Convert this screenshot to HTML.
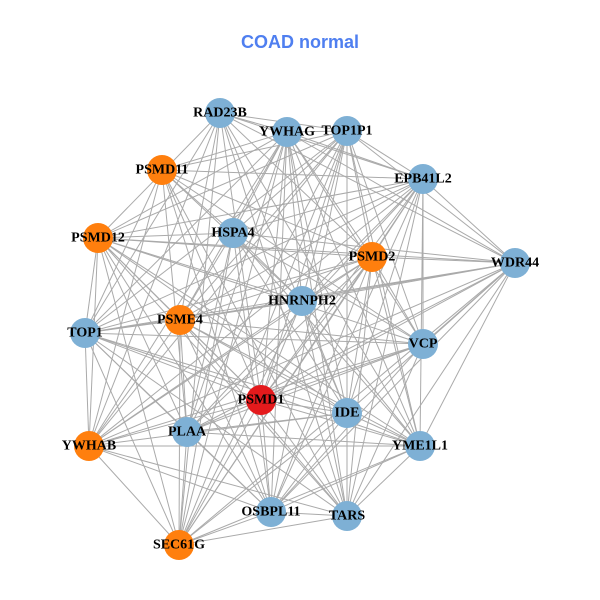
<!DOCTYPE html>
<html><head><meta charset="utf-8"><style>
html,body{margin:0;padding:0;background:#fff;width:600px;height:600px;overflow:hidden}
svg{display:block}
.l{font-family:"Liberation Serif",serif;font-weight:bold;font-size:14px;fill:#000;text-anchor:middle;dominant-baseline:central}
</style></head><body>
<svg id="s" width="600" height="600" xmlns="http://www.w3.org/2000/svg">
<text x="300" y="48" text-anchor="middle" font-family="Liberation Sans,sans-serif" font-weight="bold" font-size="18" fill="#4f7ff0">COAD normal</text>
<g id="e" stroke="#aaaaaa" stroke-width="1"></g>
<g id="n">
<circle cx="220" cy="113" r="15" fill="#7eb0d5"/>
<circle cx="287" cy="132" r="15" fill="#7eb0d5"/>
<circle cx="347" cy="131" r="15" fill="#7eb0d5"/>
<circle cx="162" cy="170" r="15" fill="#ff7f0e"/>
<circle cx="423" cy="179" r="15" fill="#7eb0d5"/>
<circle cx="98" cy="238" r="15" fill="#ff7f0e"/>
<circle cx="233" cy="233" r="15" fill="#7eb0d5"/>
<circle cx="372" cy="257" r="15" fill="#ff7f0e"/>
<circle cx="515" cy="263" r="15" fill="#7eb0d5"/>
<circle cx="302" cy="301" r="15" fill="#7eb0d5"/>
<circle cx="85" cy="333" r="15" fill="#7eb0d5"/>
<circle cx="180" cy="320" r="15" fill="#ff7f0e"/>
<circle cx="423" cy="344" r="15" fill="#7eb0d5"/>
<circle cx="261" cy="400" r="15" fill="#e41a1c"/>
<circle cx="347" cy="413" r="15" fill="#7eb0d5"/>
<circle cx="187" cy="432" r="15" fill="#7eb0d5"/>
<circle cx="89" cy="446" r="15" fill="#ff7f0e"/>
<circle cx="420" cy="446" r="15" fill="#7eb0d5"/>
<circle cx="271" cy="512" r="15" fill="#7eb0d5"/>
<circle cx="347" cy="516" r="15" fill="#7eb0d5"/>
<circle cx="179" cy="545" r="15" fill="#ff7f0e"/>
</g>
<g>
<text class="l" x="220" y="113">RAD23B</text>
<text class="l" x="287" y="132">YWHAG</text>
<text class="l" x="347" y="131">TOP1P1</text>
<text class="l" x="162" y="170">PSMD11</text>
<text class="l" x="423" y="179">EPB41L2</text>
<text class="l" x="98" y="238">PSMD12</text>
<text class="l" x="233" y="233">HSPA4</text>
<text class="l" x="372" y="257">PSMD2</text>
<text class="l" x="515" y="263">WDR44</text>
<text class="l" x="302" y="301">HNRNPH2</text>
<text class="l" x="85" y="333">TOP1</text>
<text class="l" x="180" y="320">PSME4</text>
<text class="l" x="423" y="344">VCP</text>
<text class="l" x="261" y="400">PSMD1</text>
<text class="l" x="347" y="413">IDE</text>
<text class="l" x="187" y="432">PLAA</text>
<text class="l" x="89" y="446">YWHAB</text>
<text class="l" x="420" y="446">YME1L1</text>
<text class="l" x="271" y="512">OSBPL11</text>
<text class="l" x="347" y="516">TARS</text>
<text class="l" x="179" y="545">SEC61G</text>
</g>
</svg>
<script>
var c=document.querySelectorAll('#n circle'),g=document.getElementById('e'),p=[];
c.forEach(function(k){p.push([+k.getAttribute('cx'),+k.getAttribute('cy')]);});
for(var i=0;i<p.length;i++)for(var j=i+1;j<p.length;j++){
 if((i*7+j*3)%9==0)continue;
 var l=document.createElementNS('http://www.w3.org/2000/svg','line');
 l.setAttribute('x1',p[i][0]);l.setAttribute('y1',p[i][1]);l.setAttribute('x2',p[j][0]);l.setAttribute('y2',p[j][1]);
 g.appendChild(l);}
</script>
</body></html>
